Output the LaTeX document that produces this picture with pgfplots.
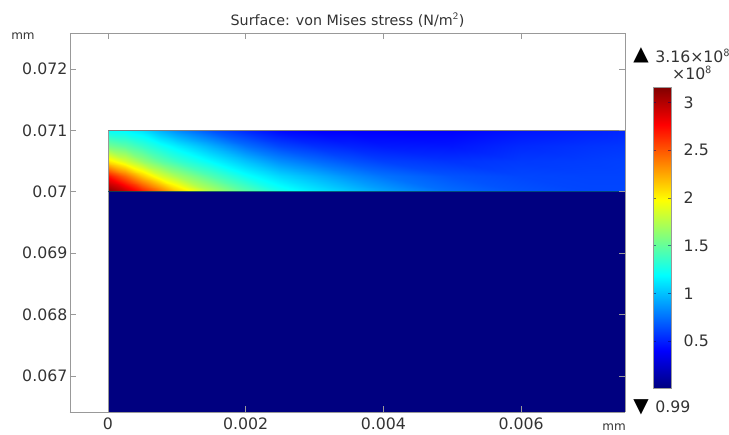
\documentclass[border=0pt]{standalone}
\usepackage{pgfplots}
\usepackage{fontspec}
\setmainfont{DejaVu Sans}
\pgfplotsset{compat=1.18}
\definecolor{axg}{gray}{0.6}
\definecolor{txt}{gray}{0.2}
\definecolor{edge}{rgb}{0,0.27,0.36}
\pgfplotsset{colormap={myjet}{rgb255(0cm)=(0,0,128); rgb255(1cm)=(0,0,255); rgb255(3cm)=(0,255,255); rgb255(5cm)=(255,255,0); rgb255(7cm)=(255,0,0); rgb255(8cm)=(128,0,0)}}
\begin{document}
\begin{tikzpicture}[x=0.75pt,y=0.75pt]
\path[use as bounding box] (0,0) rectangle (729,435);
\begin{axis}[
  at={(52.5pt,17.25pt)}, anchor=south west,
  scale only axis, width=416.25pt, height=284.25pt,
  view={0}{90},
  xmin=-0.000552, xmax=0.00751, ymin=0.066414, ymax=0.072586,
  xtick={0,0.002,0.004,0.006}, xticklabels={0,0.002,0.004,0.006},
  ytick={0.067,0.068,0.069,0.07,0.071,0.072}, yticklabels={0.067,0.068,0.069,0.07,0.071,0.072},
  ztick=\empty,
  scaled ticks=false,
  tick align=inside, tick pos=both, major tick length=4.5pt,
  axis line style={axg, line width=0.6pt},
  tick style={axg, line width=0.5pt},
  xticklabel pos=bottom, yticklabel pos=left,
  tick label style={font=\fontsize{11.8}{13}\selectfont, text=txt},
  xticklabel style={yshift=-0.5pt},
  yticklabel style={xshift=1.5pt},
  title={Surface: von Mises stress (N/m$^{\mathsf{2}}$)},
  title style={font=\fontsize{10.7}{12}\selectfont, text=txt, at={(0.5,1)}, yshift=-5pt},
  colormap name=myjet,
  point meta min=0.01, point meta max=3.16,
  colorbar,
  colorbar style={
    at={(1.0505,0.8575)}, anchor=north west,
    width=13.5pt, height=225.75pt,
    ytick={0.5,1,1.5,2,2.5,3}, yticklabels={0.5,1,1.5,2,2.5,3},
    yticklabel pos=right,
    tick align=inside, major tick length=2pt,
    tick style={black!60!blue, opacity=0.5, line width=0.4pt},
    axis line style={axg, line width=0.6pt},
    tick label style={font=\fontsize{11.8}{13}\selectfont, text=txt},
    yticklabel style={xshift=6pt},
  },
]
\addplot3[surf, shader=interp, point meta=z] coordinates {
 (0,0.066414,0.01) (0.0075,0.066414,0.01)

 (0,0.07,0.01) (0.0075,0.07,0.01)
};
\addplot3[surf, shader=interp, point meta=z] table[x=x,y=y,z=v] {
x y v
0 0.07 3.16
0.00025 0.07 2.98
0.0005 0.07 2.72
0.00075 0.07 2.45
0.001 0.07 2.17
0.0015 0.07 1.76
0.002 0.07 1.48
0.0025 0.07 1.27
0.003 0.07 1.14
0.0035 0.07 1.03
0.004 0.07 0.92
0.005 0.07 0.74
0.006 0.07 0.66
0.007 0.07 0.62
0.0075 0.07 0.62

0 0.07025 2.72
0.00025 0.07025 2.45
0.0005 0.07025 2.15
0.00075 0.07025 1.88
0.001 0.07025 1.70
0.0015 0.07025 1.44
0.002 0.07025 1.22
0.0025 0.07025 1.07
0.003 0.07025 0.96
0.0035 0.07025 0.85
0.004 0.07025 0.76
0.005 0.07025 0.66
0.006 0.07025 0.62
0.007 0.07025 0.61
0.0075 0.07025 0.61

0 0.0705 2.05
0.00025 0.0705 1.85
0.0005 0.0705 1.65
0.00075 0.0705 1.48
0.001 0.0705 1.36
0.0015 0.0705 1.18
0.002 0.0705 1.0
0.0025 0.0705 0.84
0.003 0.0705 0.74
0.0035 0.0705 0.66
0.004 0.0705 0.60
0.005 0.0705 0.56
0.006 0.0705 0.58
0.007 0.0705 0.59
0.0075 0.0705 0.6

0 0.07075 1.55
0.00025 0.07075 1.47
0.0005 0.07075 1.36
0.00075 0.07075 1.24
0.001 0.07075 1.14
0.0015 0.07075 0.95
0.002 0.07075 0.75
0.0025 0.07075 0.62
0.003 0.07075 0.55
0.0035 0.07075 0.51
0.004 0.07075 0.48
0.005 0.07075 0.47
0.006 0.07075 0.53
0.007 0.07075 0.56
0.0075 0.07075 0.57

0 0.071 1.2
0.00025 0.071 1.17
0.0005 0.071 1.1
0.00075 0.071 0.95
0.001 0.071 0.83
0.0015 0.071 0.65
0.002 0.071 0.52
0.0025 0.071 0.42
0.003 0.071 0.39
0.0035 0.071 0.39
0.004 0.071 0.39
0.005 0.071 0.40
0.006 0.071 0.46
0.007 0.071 0.5
0.0075 0.071 0.52
};
\addplot3[axg, line width=0.6pt] coordinates {(0,0.066414,3.2) (0,0.071,3.2)};
\addplot3[gray, line width=0.9pt] coordinates {(0,0.071,3.2) (0.0075,0.071,3.2)};
\addplot3[edge, opacity=0.8, line width=0.8pt] coordinates {(0,0.07,3.2) (0.0075,0.07,3.2)};
\end{axis}
\node[anchor=base, font=\fontsize{9}{10}\selectfont, text=txt] at (23,395) {mm};
\node[anchor=base, font=\fontsize{9}{10}\selectfont, text=txt] at (614,4) {mm};
\node[anchor=center, inner sep=0pt, font=\fontsize{15}{16}\selectfont] at (641,380) {▲};
\node[anchor=west, inner sep=0pt, font=\fontsize{11.8}{13}\selectfont, text=txt] at (655,379)
  {3.16×10$^{\mathsf{8}}$};
\node[anchor=center, inner sep=0pt, font=\fontsize{11.8}{13}\selectfont, text=txt] at (692,362)
  {×10$^{\mathsf{8}}$};
\node[anchor=center, inner sep=0pt, font=\fontsize{15}{16}\selectfont] at (641,28) {▼};
\node[anchor=west, inner sep=0pt, font=\fontsize{11.8}{13}\selectfont, text=txt] at (655,28)
  {0.99};
\end{tikzpicture}
\end{document}
